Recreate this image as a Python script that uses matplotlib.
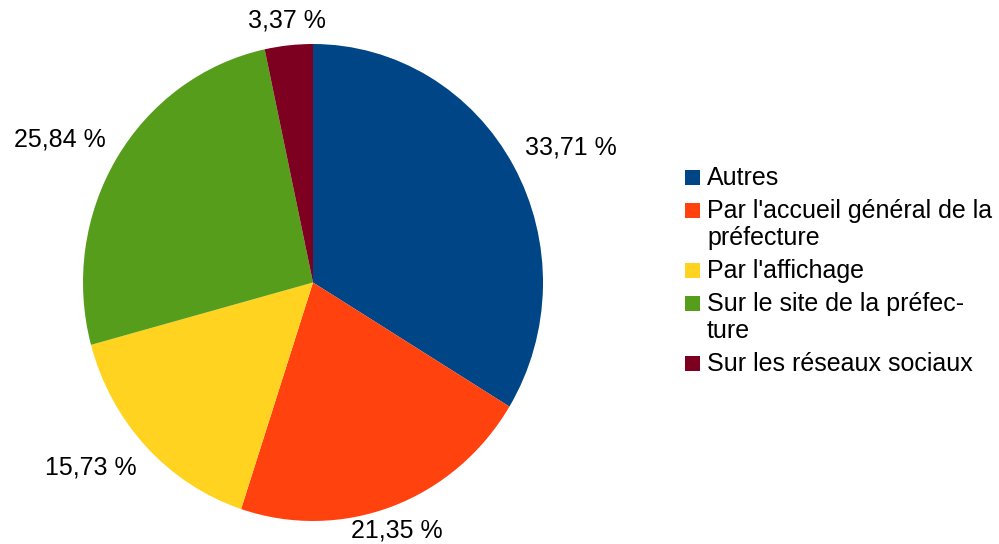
import matplotlib
matplotlib.use("Agg")
import matplotlib.pyplot as plt
from matplotlib.patches import Rectangle
import numpy as np

plt.rcParams['font.family'] = ['Liberation Sans', 'DejaVu Sans']

categories = ["Autres",
              "Par l'accueil général de la\npréfecture",
              "Par l'affichage",
              "Sur le site de la préfec-\nture",
              "Sur les réseaux sociaux"]
values = [33.71, 21.35, 15.73, 25.84, 3.37]
colors = ["#004586", "#ff420e", "#ffd320", "#579d1c", "#7e0021"]

W, H = 999, 544
fig = plt.figure(figsize=(W / 100, H / 100), dpi=100)

# pie axes in pixel box
left, right, top, bottom = 83, 543, 44, 521
ax = fig.add_axes([left / W, 1 - bottom / H, (right - left) / W, (bottom - top) / H])

labels = [f"{v:.2f}".replace(".", ",") + " %" for v in values]
wedges, texts = ax.pie(values, colors=colors, startangle=90, counterclock=False,
                       labels=labels, labeldistance=1.055,
                       wedgeprops=dict(linewidth=0),
                       textprops=dict(fontsize=18, color="#000000"))
ax.set_aspect('auto')
ax.set_xlim(-1, 1)
ax.set_ylim(-1, 1)
for w, t in zip(wedges, texts):
    ang = np.deg2rad((w.theta1 + w.theta2) / 2)
    c, s = np.cos(ang), np.sin(ang)
    t.set_ha('left' if c > 0.5 else ('right' if c < -0.5 else 'center'))
    t.set_va('bottom' if s > 0.3 else ('top' if s < -0.3 else 'center'))
    t.set_clip_on(False)

# legend drawn manually
fs = 18
sq = 15
x_sq = 685
x_txt = 707
y_center = 177
entry_gap = 33
line_gap = 27
for cat, col in zip(categories, colors):
    lines = cat.split("\n")
    fig.add_artist(Rectangle((x_sq / W, 1 - (y_center + sq / 2) / H), sq / W, sq / H,
                             transform=fig.transFigure, facecolor=col, edgecolor='none'))
    for i, ln in enumerate(lines):
        fig.text(x_txt / W, 1 - (y_center + 8 + i * line_gap) / H, ln,
                 fontsize=fs, ha='left', va='baseline', color="#000000")
    y_center += entry_gap + line_gap * (len(lines) - 1)

fig.savefig("out.png", dpi=100)
